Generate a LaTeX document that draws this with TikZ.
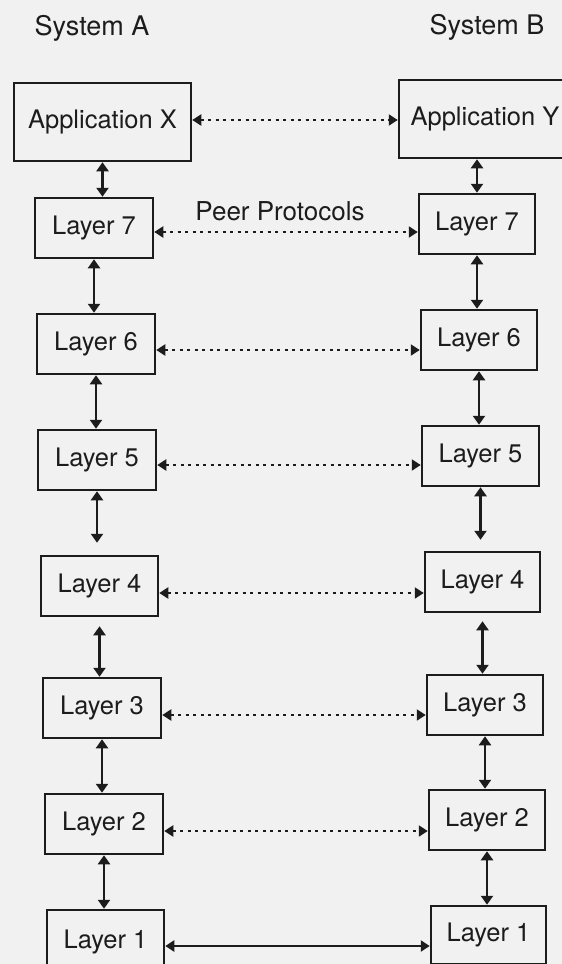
\documentclass[tikz,border=0pt]{standalone}
\usepackage{fontspec}
\setmainfont{TeX Gyre Heros}
\usetikzlibrary{arrows.meta}
\definecolor{ink}{HTML}{1C1C1C}
\definecolor{paper}{HTML}{F1F1F1}
\tikzset{
  box/.style={draw=ink, line width=2.5pt, rectangle, inner sep=0pt,
    text=ink, font=\fontsize{25.5pt}{30pt}\selectfont},
  title/.style={text=ink, font=\fontsize{27pt}{32pt}\selectfont, inner sep=0pt},
  vert/.style={draw=ink, line width=2.2pt, {Triangle[length=9pt, width=12pt]}-{Triangle[length=9pt, width=12pt]}},
  peer/.style={draw=ink, line width=2.1pt, dash pattern=on 3pt off 4.5pt, {Triangle[length=9pt, width=11pt]}-{Triangle[length=9pt, width=11pt]}},
  solidpeer/.style={draw=ink, line width=2.2pt, {Triangle[length=9pt, width=11pt]}-{Triangle[length=9pt, width=11pt]}},
}
\begin{document}
\begin{tikzpicture}[x=1pt, y=-1pt]
  \fill[paper] (0,0) rectangle (562,964);
  \useasboundingbox (0,0) rectangle (562,964);

  % column headings
  \node[title] (sysA) at (92,28) {System A};
  \node[title] (sysB) at (487,27) {System B};

  % System A stack
  \node[box, minimum width=177pt, minimum height=78pt] (AX) at (102.5,122) {Application X};
  \node[box, minimum width=118pt, minimum height=60pt] (A7) at (94,228) {Layer 7};
  \node[box, minimum width=118pt, minimum height=60pt] (A6) at (96,344) {Layer 6};
  \node[box, minimum width=118pt, minimum height=60pt] (A5) at (97,460) {Layer 5};
  \node[box, minimum width=117pt, minimum height=60pt] (A4) at (99.5,586) {Layer 4};
  \node[box, minimum width=118pt, minimum height=60pt] (A3) at (102,708) {Layer 3};
  \node[box, minimum width=118pt, minimum height=60pt] (A2) at (104,824) {Layer 2};
  \node[box, minimum width=117pt, minimum height=64pt] (A1) at (105.5,942) {Layer 1};

  % System B stack
  \node[box, minimum width=172pt, minimum height=78pt] (BY) at (485,119) {Application Y};
  \node[box, minimum width=116pt, minimum height=60pt] (B7) at (477,224) {Layer 7};
  \node[box, minimum width=116pt, minimum height=60pt] (B6) at (479,340) {Layer 6};
  \node[box, minimum width=117pt, minimum height=60pt] (B5) at (480.5,456) {Layer 5};
  \node[box, minimum width=115pt, minimum height=60pt] (B4) at (482.5,582) {Layer 4};
  \node[box, minimum width=116pt, minimum height=60pt] (B3) at (485,705) {Layer 3};
  \node[box, minimum width=116pt, minimum height=60pt] (B2) at (487,820) {Layer 2};
  \node[box, minimum width=115pt, minimum height=58pt] (B1) at (488.5,935) {Layer 1};

  \node[title, font=\fontsize{26pt}{31pt}\selectfont, anchor=base] (peerlbl) at (280,220) {Peer Protocols};

  % vertical interfaces, System A
  \draw[vert] (AX.south) -- (AX.south |- A7.north);
  \draw[vert] (A7.south) -- (A7.south |- A6.north);
  \draw[vert] (A6.south) -- (A6.south |- A5.north);
  \draw[vert, shorten >=12pt] (A5.south) -- (A5.south |- A4.north);
  \draw[vert, shorten <=9pt] (A4.south) -- (A4.south |- A3.north);
  \draw[vert] (A3.south) -- (A3.south |- A2.north);
  \draw[vert] (A2.south) -- (A2.south |- A1.north);

  % vertical interfaces, System B
  \draw[vert] (BY.south -| B7.north) -- (B7.north);
  \draw[vert] (B7.south) -- (B7.south |- B6.north);
  \draw[vert] (B6.south) -- (B6.south |- B5.north);
  \draw[vert, shorten >=11pt] (B5.south) -- (B5.south |- B4.north);
  \draw[vert, shorten <=8pt] (B4.south) -- (B4.south |- B3.north);
  \draw[vert] (B3.south) -- (B3.south |- B2.north);
  \draw[vert] (B2.south) -- (B2.south |- B1.north);

  % peer-to-peer links
  \coordinate (hX) at ([yshift=2pt]AX.east);
  \coordinate (h7) at ([yshift=-4pt]A7.east);
  \coordinate (h6) at ([yshift=-6pt]A6.east);
  \coordinate (h5) at ([yshift=-5pt]A5.east);
  \coordinate (h4) at ([yshift=-7pt]A4.east);
  \coordinate (h3) at ([yshift=-7pt]A3.east);
  \coordinate (h2) at ([yshift=-7pt]A2.east);
  \coordinate (h1) at ([yshift=-4pt]A1.east);
  \draw[peer] (hX) -- (hX -| BY.west);
  \draw[peer] (h7) -- (h7 -| B7.west);
  \draw[peer] (h6) -- (h6 -| B6.west);
  \draw[peer] (h5) -- (h5 -| B5.west);
  \draw[peer] (h4) -- (h4 -| B4.west);
  \draw[peer] (h3) -- (h3 -| B3.west);
  \draw[peer] (h2) -- (h2 -| B2.west);
  \draw[solidpeer] (h1) -- (h1 -| B1.west);
\end{tikzpicture}
\end{document}
